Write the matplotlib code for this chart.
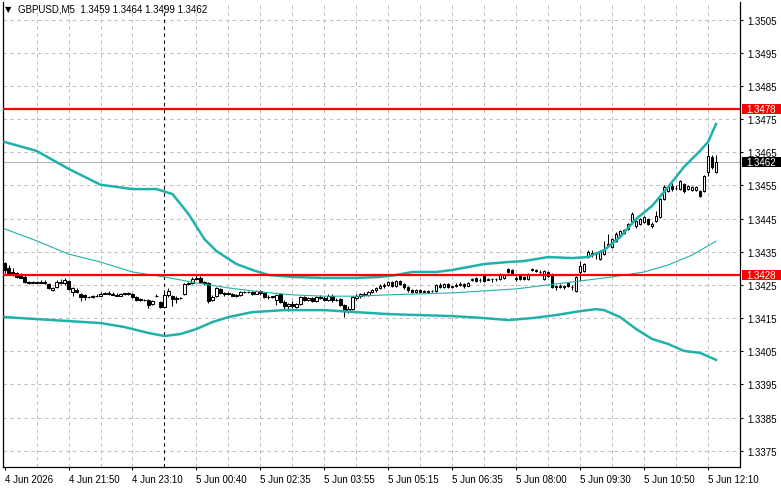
import matplotlib
import numpy as np

matplotlib.use("Agg")
import matplotlib.pyplot as plt
from matplotlib.patches import Rectangle
from matplotlib.transforms import blended_transform_factory

plt.rcParams["font.family"] = ["Liberation Sans", "DejaVu Sans"]
plt.rcParams["lines.scale_dashes"] = False

# prices are stored as pips above 1.3400
BASE = 1.34

opens = [31.5, 30.0, 29.0, 28.5, 28.0, 27.5, 26.0, 25.6, 25.8, 25.7, 26.0, 25.4, 23.5, 24.3, 26.0, 25.6,
         26.3, 23.0, 23.5, 22.3, 22.0, 21.4, 21.3, 21.8, 21.8, 22.4, 22.6, 22.3, 22.0, 21.8, 22.3, 22.5,
         22.2, 21.5, 20.4, 20.6, 20.5, 19.3, 21.6, 19.8, 18.4, 22.0, 21.6, 20.7, 21.2, 22.3, 25.3, 25.6,
         26.8, 27.2, 26.0, 25.5, 20.5, 21.8, 23.9, 22.4, 22.6, 22.2, 21.8, 22.0, 22.8, 22.9, 23.0, 22.4,
         23.2, 22.6, 21.5, 21.4, 20.4, 22.2, 19.9, 18.5, 19.2, 18.3, 19.2, 21.3, 20.5, 21.0, 20.1, 21.4,
         21.2, 20.6, 21.8, 20.5, 20.8, 19.0, 17.0, 17.6, 21.0, 21.8, 22.2, 22.0, 22.9, 23.5, 24.0, 24.7,
         25.0, 25.8, 24.7, 26.1, 25.3, 24.3, 23.6, 23.0, 23.4, 23.0, 23.0, 23.3, 23.1, 24.9, 24.3, 25.3,
         24.5, 24.6, 25.0, 25.2, 24.8, 26.6, 27.1, 26.4, 27.6, 26.6, 26.8, 26.7, 26.8, 27.0, 29.8, 29.4,
         27.0, 27.9, 27.4, 26.8, 29.5, 29.6, 29.0, 26.8, 28.9, 28.3, 24.4, 24.6, 24.3, 25.5, 24.4, 23.2,
         28.9, 29.1, 33.4, 34.3, 34.3, 32.9, 34.3, 37.0, 36.4, 38.2, 39.7, 40.8, 41.9, 44.3, 42.8, 43.4,
         44.0, 44.9, 42.8, 44.3, 45.5, 50.9, 53.3, 54.8, 54.2, 53.9, 55.4, 53.9, 53.6, 53.6, 53.3, 53.3,
         59.1, 63.6, 59.1]
highs = [31.8, 31.0, 30.0, 29.0, 28.5, 28.0, 26.3, 26.2, 26.3, 26.5, 26.4, 25.6, 24.4, 26.5, 26.8, 27.2,
         26.6, 24.5, 24.2, 22.5, 22.4, 21.6, 22.0, 22.2, 23.0, 23.0, 23.3, 22.9, 22.5, 22.5, 22.7, 22.8,
         22.5, 21.8, 21.0, 20.9, 20.7, 20.5, 22.3, 20.0, 22.5, 24.0, 22.0, 21.8, 21.5, 25.6, 26.0, 27.5,
         28.0, 27.6, 26.3, 25.8, 22.0, 24.4, 24.2, 22.9, 22.8, 22.6, 22.4, 23.2, 23.3, 23.2, 23.3, 23.5,
         23.5, 22.8, 22.0, 21.8, 22.3, 22.5, 20.5, 19.5, 20.0, 19.6, 21.8, 21.8, 21.3, 21.5, 21.8, 22.0,
         21.6, 22.2, 22.4, 21.0, 21.0, 19.2, 18.5, 21.8, 22.4, 22.5, 22.8, 23.2, 23.8, 24.5, 25.3, 25.6,
         26.3, 26.1, 26.4, 26.6, 25.5, 24.6, 23.9, 23.8, 23.7, 23.4, 23.5, 23.6, 25.2, 25.6, 25.7, 25.6,
         24.8, 25.6, 25.8, 25.7, 26.0, 27.2, 27.5, 27.0, 28.0, 27.0, 27.2, 27.2, 28.6, 28.4, 30.2, 29.8,
         27.6, 28.2, 27.8, 28.5, 30.2, 29.9, 29.4, 29.4, 29.2, 28.5, 25.0, 25.3, 25.0, 25.8, 25.0, 27.6,
         32.2, 31.6, 35.5, 35.6, 35.0, 35.4, 38.2, 40.3, 39.2, 41.0, 41.6, 42.0, 43.8, 47.0, 44.6, 45.2,
         45.8, 45.2, 43.9, 47.3, 51.2, 55.0, 55.2, 55.6, 55.0, 56.6, 55.8, 55.2, 54.8, 54.8, 53.6, 58.2,
         67.5, 64.3, 64.3]
lows = [28.5, 28.0, 27.8, 27.0, 27.0, 25.5, 25.3, 25.5, 25.5, 25.6, 25.3, 23.9, 23.2, 24.0, 25.2, 25.0,
        23.5, 21.8, 22.6, 20.0, 20.5, 21.0, 21.0, 21.5, 21.6, 22.2, 22.0, 21.9, 21.7, 21.6, 22.0, 22.0,
        21.2, 20.0, 20.0, 20.3, 18.0, 19.0, 21.4, 18.0, 18.0, 21.5, 18.7, 19.5, 20.8, 22.0, 25.0, 25.3,
        26.4, 25.8, 25.0, 19.6, 20.0, 21.5, 22.3, 21.8, 22.1, 21.6, 21.5, 21.7, 22.5, 22.6, 22.0, 22.2,
        22.0, 21.2, 20.8, 21.0, 19.0, 19.5, 17.8, 17.0, 18.0, 18.0, 18.8, 20.0, 20.2, 19.7, 19.9, 20.8,
        20.3, 20.3, 19.8, 20.0, 18.5, 15.4, 16.5, 17.3, 20.5, 21.0, 21.6, 21.8, 22.5, 23.0, 23.7, 24.2,
        24.8, 24.4, 24.5, 25.0, 23.8, 23.0, 22.7, 22.6, 22.8, 22.5, 22.7, 22.8, 22.9, 24.0, 24.0, 24.0,
        24.2, 24.3, 24.6, 24.2, 24.6, 26.3, 26.0, 26.0, 25.8, 26.4, 26.0, 26.3, 26.5, 26.8, 28.6, 28.3,
        26.3, 26.5, 26.4, 26.6, 29.2, 28.8, 28.0, 26.5, 27.4, 24.0, 23.5, 24.0, 23.8, 24.4, 23.6, 23.0,
        26.1, 28.8, 33.0, 33.5, 32.8, 32.6, 34.0, 36.4, 36.0, 37.8, 39.3, 40.4, 41.5, 44.0, 42.3, 43.0,
        43.8, 43.0, 42.3, 44.0, 45.2, 50.5, 53.0, 53.2, 53.6, 53.6, 52.8, 53.6, 53.3, 53.3, 51.5, 53.0,
        57.9, 59.8, 58.6]
closes = [29.5, 28.5, 28.2, 27.5, 27.2, 26.0, 25.6, 25.9, 25.7, 26.0, 25.5, 24.2, 24.2, 26.0, 25.6, 26.5,
          23.8, 24.2, 23.0, 21.3, 21.3, 21.3, 21.8, 21.7, 22.4, 22.6, 22.3, 22.0, 21.8, 22.3, 22.5, 22.2,
          21.5, 20.4, 20.7, 20.5, 19.0, 20.2, 21.8, 18.4, 22.1, 23.2, 20.7, 21.2, 21.1, 25.3, 25.6, 26.8,
          27.2, 26.0, 25.5, 20.2, 21.5, 24.0, 22.6, 22.6, 22.3, 21.8, 22.0, 22.8, 22.9, 23.0, 22.4, 23.2,
          22.6, 21.5, 21.4, 21.6, 21.9, 19.9, 18.5, 19.2, 18.5, 19.2, 21.3, 20.5, 21.0, 20.1, 21.4, 21.2,
          20.6, 21.8, 20.5, 20.6, 19.0, 17.0, 17.6, 21.4, 21.8, 22.2, 22.0, 22.9, 23.5, 24.0, 24.7, 25.0,
          25.8, 24.7, 26.1, 25.3, 24.3, 23.6, 23.0, 23.4, 23.0, 23.2, 23.3, 23.1, 24.9, 24.3, 25.3, 24.5,
          24.6, 25.0, 25.2, 24.8, 25.7, 26.8, 26.2, 26.6, 26.1, 26.8, 26.7, 26.9, 28.3, 28.0, 28.9, 28.6,
          26.8, 26.8, 26.7, 28.3, 29.7, 29.1, 28.8, 29.1, 27.6, 24.4, 24.6, 24.3, 24.8, 24.6, 24.3, 27.4,
          30.7, 31.3, 35.0, 34.5, 34.2, 35.0, 35.8, 37.3, 38.8, 40.3, 41.2, 41.6, 43.4, 46.4, 44.3, 44.9,
          45.5, 43.4, 43.5, 45.8, 50.9, 54.5, 54.5, 53.9, 54.2, 56.3, 53.3, 54.8, 54.5, 54.5, 51.8, 57.9,
          63.9, 60.6, 62.1]

# indicator lines, sampled at bar indices
upper_bars = [0, 8, 16, 24, 32, 38, 42, 46, 50, 53, 58, 62, 66, 72, 80, 88, 94, 98, 102, 108, 112, 116,
              120, 126, 130, 136, 142, 146, 150, 154, 158, 162, 166, 170, 174, 176, 178]
upper_band = [68.1, 65.4, 60.0, 55.2, 53.9, 53.9, 52.4, 46.4, 38.8, 35.2, 31.3, 29.5, 28.0, 27.4, 27.1,
              27.1, 27.4, 28.0, 28.9, 28.9, 29.5, 30.4, 31.3, 31.9, 32.2, 33.4, 33.1, 33.4, 35.5, 39.4,
              44.9, 48.8, 54.5, 60.6, 65.4, 68.1, 73.5]
lower_bars = [0, 8, 16, 24, 30, 36, 40, 44, 48, 52, 56, 62, 70, 80, 88, 96, 104, 112, 120, 126, 132,
              138, 144, 148, 150, 154, 158, 162, 166, 170, 174, 178]
lower_band = [15.3, 14.7, 14.1, 13.5, 12.3, 10.5, 9.6, 10.2, 11.7, 13.8, 15.3, 16.8, 17.4, 17.4, 16.8,
              16.2, 15.9, 15.6, 15.0, 14.4, 15.0, 15.9, 17.1, 17.7, 17.4, 15.3, 11.7, 8.7, 7.2, 5.1, 4.5, 2.4]
ma_bars = [0, 8, 16, 24, 32, 40, 48, 56, 64, 72, 80, 88, 96, 104, 112, 120, 128, 136, 144, 152, 160,
           166, 172, 178]
ma_line = [41.9, 38.3, 34.3, 31.9, 28.9, 27.4, 25.6, 24.1, 22.9, 22.0, 21.6, 21.6, 22.0, 22.3, 22.6,
           23.2, 23.8, 25.0, 26.2, 27.4, 28.9, 31.0, 34.0, 38.2]

x_labels = ["4 Jun 2026", "4 Jun 21:50", "4 Jun 23:10", "5 Jun 00:40", "5 Jun 02:35", "5 Jun 03:55",
            "5 Jun 05:15", "5 Jun 06:35", "5 Jun 08:00", "5 Jun 09:30", "5 Jun 10:50", "5 Jun 12:10"]
y_ticks = [1.3375, 1.3385, 1.3395, 1.3405, 1.3415, 1.3425, 1.3435, 1.3445, 1.3455, 1.3465, 1.3475,
           1.3485, 1.3495, 1.3505]
levels = [1.3478, 1.3428]
last_price = 1.3462
title = "GBPUSD,M5  1.3459 1.3464 1.3499 1.3462"

TEAL = "#20b2aa"
GRID = "#c0c0c0"

o = BASE + np.array(opens) / 10000
h = BASE + np.array(highs) / 10000
l = BASE + np.array(lows) / 10000
c = BASE + np.array(closes) / 10000
x = np.arange(len(o))

fig = plt.figure(figsize=(7.81, 4.89), dpi=100)
ax = fig.add_axes([3 / 781, 21 / 489, 737 / 781, 465 / 489])
ax.set_xlim(-0.4, 184)
ax.set_ylim(1.33701, 1.35103)

# grid
for yv in y_ticks:
    ax.axhline(yv, color=GRID, linewidth=0.75, linestyle=(0, (2.5, 2.5)), zorder=1)
for xv in range(8, 184, 8):
    if xv == 40:
        continue
    ax.axvline(xv, color=GRID, linewidth=0.75, linestyle=(0, (2.5, 2.5)), zorder=1)
ax.axvline(40, color="black", linewidth=0.75, linestyle=(0, (2.5, 2.5)), zorder=2)

ax.axhline(last_price, color="#b4b4b4", linewidth=0.8, zorder=1.5)

# candles
ax.vlines(x, l, h, color="black", linewidth=0.75, zorder=3)
up = c >= o
body_lo = np.minimum(o, c)
body_h = np.maximum(np.abs(c - o), 0.000005)
ax.bar(x[up], body_h[up], bottom=body_lo[up], width=0.6, facecolor="white",
       edgecolor="black", linewidth=0.75, zorder=3.5)
ax.bar(x[~up], body_h[~up], bottom=body_lo[~up], width=0.6, facecolor="black",
       edgecolor="black", linewidth=0.75, zorder=3.5)

# bands
ax.plot(upper_bars, BASE + np.array(upper_band) / 10000, color=TEAL, linewidth=1.8, zorder=4)
ax.plot(lower_bars, BASE + np.array(lower_band) / 10000, color=TEAL, linewidth=1.8, zorder=4)
ax.plot(ma_bars, BASE + np.array(ma_line) / 10000, color=TEAL, linewidth=0.8, zorder=4)

for lv in levels:
    ax.axhline(lv, color="#ff0000", linewidth=1.6, zorder=5)

# axes styling
ax.spines["top"].set_visible(False)
for side in ["left", "right", "bottom"]:
    ax.spines[side].set_linewidth(0.9)
    ax.spines[side].set_color("black")

ax.yaxis.tick_right()
ax.set_yticks(y_ticks)
ax.set_yticklabels([f"{v:.4f}" for v in y_ticks])
ax.tick_params(axis="y", direction="out", length=2.5, width=0.75, pad=2.5, labelsize=7)
ax.set_xticks(range(0, 16 * len(x_labels), 16))
ax.set_xticklabels(x_labels, ha="left")
ax.tick_params(axis="x", direction="out", length=2.5, width=0.75, pad=2.5, labelsize=7)

# price tags on the right scale
tag_tf = blended_transform_factory(fig.transFigure, ax.transData)
tag_h = 10 / 33150
for price, col in [(levels[0], "#ff0000"), (levels[1], "#ff0000"), (last_price, "black")]:
    fig.add_artist(Rectangle((742 / 781, price - tag_h / 2), 39 / 781, tag_h,
                             transform=tag_tf, facecolor=col, edgecolor="none", zorder=6))
    fig.text(746 / 781, price, f"{price:.4f}", transform=tag_tf, color="white",
             fontsize=7, va="center", ha="left", zorder=7)

fig.text(5 / 781, 1 - 10 / 489, "\u25bc", fontsize=6, va="center", ha="left",
         family=["DejaVu Sans"])
fig.text(18 / 781, 1 - 10 / 489, title, fontsize=7, va="center", ha="left")

fig.savefig("out.png", dpi=100)
